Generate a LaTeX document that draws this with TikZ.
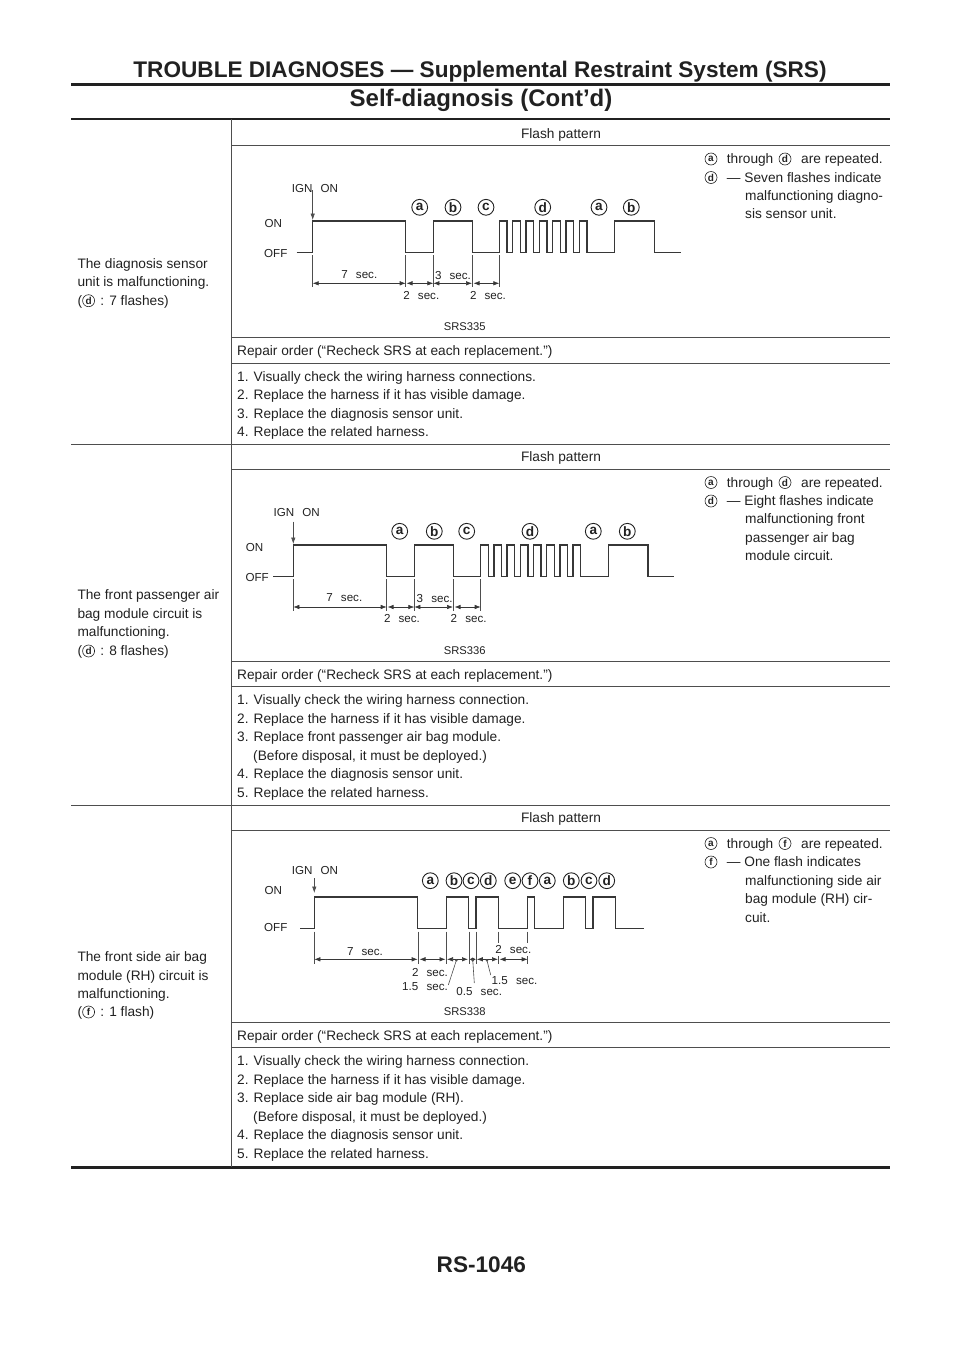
\documentclass[tikz,border=0pt]{standalone}
\usepackage{fontspec}
\setmainfont{Liberation Sans}
\usetikzlibrary{arrows.meta}
\definecolor{inkgray}{gray}{0.13}
\tikzset{
  rulethin/.style={line width=0.9pt, inkgray!80},
  rulethick/.style={line width=3pt, inkgray},
  wave/.style={line width=1.3pt, inkgray!90, line join=miter},
  tick/.style={line width=0.6pt, inkgray!80},
  dimline/.style={{Latex[length=6pt,width=4.5pt]}-{Latex[length=6pt,width=4.5pt]}, line width=0.6pt, inkgray!90},
  dimshort/.style={{Latex[length=3.4pt,width=3.6pt]}-{Latex[length=3.4pt,width=3.6pt]}, line width=0.6pt, inkgray!90},
  lbl/.style={inner sep=0pt, anchor=base west, text=inkgray, font=\fontsize{13.7}{15}\selectfont},
  mid/.style={lbl, anchor=base},
  block/.style={inner sep=0pt, anchor=north west, align=left, text=inkgray, font=\fontsize{13.7}{18.45}\selectfont},
  chart/.style={inner sep=0pt, anchor=base, text=inkgray, font=\fontsize{11.6}{13}\selectfont},
  chartw/.style={chart, anchor=base west},
  capt/.style={inner sep=0pt, anchor=base, text=inkgray, font=\fontsize{11.2}{13}\selectfont},
  bigmark/.style={circle, draw=inkgray, line width=0.9pt, minimum size=15.8pt, inner sep=0pt, text=inkgray, font=\bfseries\fontsize{13.6}{14}\selectfont},
  smallmark/.style={circle, draw=inkgray, line width=0.6pt, minimum size=12pt, inner sep=0pt, text=inkgray, font=\bfseries\fontsize{10}{11}\selectfont},
  head/.style={inner sep=0pt, anchor=base, text=inkgray, font=\bfseries\fontsize{22.6}{26}\selectfont}
}
\begin{document}
\begin{tikzpicture}[x=1pt, y=-1pt]
\useasboundingbox (0,0) rectangle (960,1358);

% Drawing header and footer
\node[head] (title) at (480,77.7) {TROUBLE DIAGNOSES — Supplemental Restraint System (SRS)};
\node[head, font=\bfseries\fontsize{24}{26}\selectfont] (subtitle) at (481,106) {Self-diagnosis (Cont’d)};
\node[head] (pageno) at (481.3,1272) {RS-1046};
\draw[rulethick] (71,84) -- (890,84);
\draw[rulethick, line width=2pt] (71,119) -- (890,119);
\draw[rulethick] (71,1167.7) -- (890,1167.7);

% Drawing table lines
\draw[rulethin, line width=1.1pt] (231.3,119) -- (231.3,1167);
\draw[rulethin] (231,145.7) -- (890,145.7);
\draw[rulethin] (231,337.7) -- (890,337.7);
\draw[rulethin] (231,363) -- (890,363);
\draw[rulethin] (71,444) -- (890,444);
\draw[rulethin] (231,469.5) -- (890,469.5);
\draw[rulethin] (231,661) -- (890,661);
\draw[rulethin] (231,686.7) -- (890,686.7);
\draw[rulethin] (71,805) -- (890,805);
\draw[rulethin] (231,830) -- (890,830);
\draw[rulethin] (231,1022.3) -- (890,1022.3);
\draw[rulethin] (231,1047.5) -- (890,1047.5);

% Drawing first row text
\node[block] (cond1) at (77.3,258.3) {The diagnosis sensor\\unit is malfunctioning.};
\node[lbl] (cond1a) at (77.3,305.3) {(};
\node[smallmark] (cond1m) at (88.6,300.7) {d};
\node[lbl] (cond1b) at (100.2,305.3) {: 7 flashes)};
\node[mid] (flash1) at (561,138.2) {Flash pattern};
\node[lbl] (repair1) at (237,355.2) {Repair order (“Recheck SRS at each replacement.”)};
\node[block] (list1) at (237,371) {1. Visually check the wiring harness connections.\\2. Replace the harness if it has visible damage.\\3. Replace the diagnosis sensor unit.\\4. Replace the related harness.};
\node[smallmark] (note1a) at (711,159) {a};
\node[lbl] (note1b) at (726.7,163.5) {through};
\node[smallmark] (note1c) at (785,159) {d};
\node[lbl] (note1d) at (801,163.5) {are repeated.};
\node[smallmark] (note1e) at (711,177.5) {d};
\node[lbl] (note1f) at (726.7,182) {— Seven flashes indicate};
\node[block] (note1g) at (745,190) {malfunctioning diagno-\\sis sensor unit.};

% Drawing first chart
\draw[wave] (296.7,252.7) -- (312.7,252.7) -- (312.7,221) -- (405.7,221) -- (405.7,252.7) -- (433.3,252.7) -- (433.3,221) -- (472.7,221) -- (472.7,252.7) -- (499.3,252.7)
  \foreach \i in {0,...,6} { -- (499.3+13.35*\i,252.7) -- (499.3+13.35*\i,221) -- (506.9+13.35*\i,221) -- (506.9+13.35*\i,252.7) }
  -- (614.3,252.7) -- (614.3,221) -- (654.3,221) -- (654.3,252.7) -- (681,252.7);
\foreach \x in {312.7,405.7,433.3,472.7,499.3} { \draw[tick] (\x,255) -- (\x,287); }
\draw[-{Latex[length=6.5pt,width=4.5pt]}, tick] (312.7,190) -- (312.7,220);
\draw[dimline] (312.7,283.3) -- (405.7,283.3);
\draw[dimline] (406.5,283.3) -- (433.3,283.3);
\draw[dimline] (433.3,283.3) -- (472,283.3);
\draw[dimline] (473.5,283.3) -- (499.3,283.3);
\node[chart] (ign1) at (315,192) {IGN\hspace{5pt} ON};
\node[chartw] (on1) at (264.5,227) {ON};
\node[chartw] (off1) at (264,257.5) {OFF};
\node[chart] (sec1a) at (359.3,278.5) {7\hspace{5pt} sec.};
\node[chart] (sec1b) at (453,279) {3\hspace{5pt} sec.};
\node[chart] (sec1c) at (421.3,299) {2\hspace{5pt} sec.};
\node[chart] (sec1d) at (488,299) {2\hspace{5pt} sec.};
\node[bigmark] (m1a) at (419.7,207.3) {a};
\node[bigmark] (m1b) at (453,207.3) {b};
\node[bigmark] (m1c) at (486,207.3) {c};
\node[bigmark] (m1d) at (542.7,207.3) {d};
\node[bigmark] (m1e) at (599,207.3) {a};
\node[bigmark] (m1f) at (631.3,207.3) {b};
\node[capt] (srs1) at (464.7,330.5) {SRS335};

% Drawing second row text
\node[block] (cond2) at (77.3,589.5) {The front passenger air\\bag module circuit is\\malfunctioning.};
\node[lbl] (cond2a) at (77.3,655.5) {(};
\node[smallmark] (cond2m) at (88.6,651) {d};
\node[lbl] (cond2b) at (100.2,655.5) {: 8 flashes)};
\node[mid] (flash2) at (561,461.7) {Flash pattern};
\node[lbl] (repair2) at (237,679) {Repair order (“Recheck SRS at each replacement.”)};
\node[block] (list2) at (237,694.7) {1. Visually check the wiring harness connection.\\2. Replace the harness if it has visible damage.\\3. Replace front passenger air bag module.\\\hspace{16pt}(Before disposal, it must be deployed.)\\4. Replace the diagnosis sensor unit.\\5. Replace the related harness.};
\node[smallmark] (note2a) at (711,482.5) {a};
\node[lbl] (note2b) at (726.7,487) {through};
\node[smallmark] (note2c) at (785,482.5) {d};
\node[lbl] (note2d) at (801,487) {are repeated.};
\node[smallmark] (note2e) at (711,501) {d};
\node[lbl] (note2f) at (726.7,505.5) {— Eight flashes indicate};
\node[block] (note2g) at (745,513.5) {malfunctioning front\\passenger air bag\\module circuit.};

% Drawing second chart
\draw[wave] (273.3,576.7) -- (293.3,576.7) -- (293.3,545) -- (386.7,545) -- (386.7,576.7) -- (414.3,576.7) -- (414.3,545) -- (453.7,545) -- (453.7,576.7) -- (480.7,576.7)
  \foreach \i in {0,...,7} { -- (480.7+13.2*\i,576.7) -- (480.7+13.2*\i,545) -- (488.3+13.2*\i,545) -- (488.3+13.2*\i,576.7) }
  -- (608.3,576.7) -- (608.3,545) -- (648,545) -- (648,576.7) -- (674.3,576.7);
\foreach \x in {293.3,386.7,414.3,453.7,480.7} { \draw[tick] (\x,579) -- (\x,611); }
\draw[-{Latex[length=6.5pt,width=4.5pt]}, tick] (293.3,521.5) -- (293.3,544);
\draw[dimline] (293.3,607) -- (386.7,607);
\draw[dimline] (387.5,607) -- (414.3,607);
\draw[dimline] (414.3,607) -- (453,607);
\draw[dimline] (454.5,607) -- (480.7,607);
\node[chart] (ign2) at (296.7,516) {IGN\hspace{5pt} ON};
\node[chartw] (on2) at (245.7,551) {ON};
\node[chartw] (off2) at (245.3,581.5) {OFF};
\node[chart] (sec2a) at (344.3,601.5) {7\hspace{5pt} sec.};
\node[chart] (sec2b) at (434.7,602) {3\hspace{5pt} sec.};
\node[chart] (sec2c) at (402,622.5) {2\hspace{5pt} sec.};
\node[chart] (sec2d) at (468.7,622.5) {2\hspace{5pt} sec.};
\node[bigmark] (m2a) at (399.7,531.3) {a};
\node[bigmark] (m2b) at (434.3,531.3) {b};
\node[bigmark] (m2c) at (466.7,531.3) {c};
\node[bigmark] (m2d) at (530,531.3) {d};
\node[bigmark] (m2e) at (593.3,531.3) {a};
\node[bigmark] (m2f) at (627.3,531.3) {b};
\node[capt] (srs2) at (464.7,654.5) {SRS336};

% Drawing third row text
\node[block] (cond3) at (77.3,951.5) {The front side air bag\\module (RH) circuit is\\malfunctioning.};
\node[lbl] (cond3a) at (77.3,1016.5) {(};
\node[smallmark] (cond3m) at (88.6,1012) {f};
\node[lbl] (cond3b) at (100.2,1016.5) {: 1 flash)};
\node[mid] (flash3) at (561,822.7) {Flash pattern};
\node[lbl] (repair3) at (237,1040) {Repair order (“Recheck SRS at each replacement.”)};
\node[block] (list3) at (237,1055.7) {1. Visually check the wiring harness connection.\\2. Replace the harness if it has visible damage.\\3. Replace side air bag module (RH).\\\hspace{16pt}(Before disposal, it must be deployed.)\\4. Replace the diagnosis sensor unit.\\5. Replace the related harness.};
\node[smallmark] (note3a) at (711,843.5) {a};
\node[lbl] (note3b) at (726.7,848) {through};
\node[smallmark] (note3c) at (785,843.5) {f};
\node[lbl] (note3d) at (801,848) {are repeated.};
\node[smallmark] (note3e) at (711,862) {f};
\node[lbl] (note3f) at (726.7,866.5) {— One flash indicates};
\node[block] (note3g) at (745,875) {malfunctioning side air\\bag module (RH) cir-\\cuit.};

% Drawing third chart
\draw[wave] (300,928.3) -- (314.3,928.3) -- (314.3,897) -- (417.7,897) -- (417.7,928.3) -- (446.3,928.3) -- (446.3,897) -- (468.7,897) -- (468.7,928.3) -- (476,928.3) -- (476,897) -- (498.7,897) -- (498.7,928.3) -- (527.7,928.3) -- (527.7,897) -- (534.7,897) -- (534.7,928.3) -- (563.7,928.3) -- (563.7,897) -- (585.3,897) -- (585.3,928.3) -- (593,928.3) -- (593,897) -- (615.3,897) -- (615.3,928.3) -- (643.7,928.3);
\foreach \x in {314.3,418.7,446.3,469,476} { \draw[tick] (\x,931.7) -- (\x,964); }
\foreach \x in {498.7,527.7} { \draw[tick] (\x,931.7) -- (\x,943); \draw[tick] (\x,956) -- (\x,964); }
\draw[-{Latex[length=6.5pt,width=4.5pt]}, tick] (314.3,878) -- (314.3,893);
\draw[dimline] (314.3,959.3) -- (417.7,959.3);
\draw[dimline] (419.5,959.3) -- (445.5,959.3);
\draw[dimline] (447,959.3) -- (468,959.3);
\draw[dimshort] (469.5,959.3) -- (476,959.3);
\draw[dimline] (476.8,959.3) -- (498,959.3);
\draw[dimline] (499.5,959.3) -- (527.7,959.3);
\draw[tick, -{Circle[length=2.4pt]}] (448.3,985) -- (456.7,959.3);
\draw[tick, -{Circle[length=2.4pt]}] (474.3,983) -- (472.7,959.3);
\draw[tick, -{Circle[length=2.4pt]}] (490.7,975) -- (486.7,959.3);
\node[chart] (ign3) at (315,874) {IGN\hspace{5pt} ON};
\node[chartw] (on3) at (264.5,894) {ON};
\node[chartw] (off3) at (264,931.5) {OFF};
\node[chart] (sec3a) at (365,955) {7\hspace{5pt} sec.};
\node[chart] (sec3b) at (513.3,953.5) {2\hspace{5pt} sec.};
\node[chart] (sec3c) at (430,976) {2\hspace{5pt} sec.};
\node[chart] (sec3d) at (425,990) {1.5\hspace{5pt} sec.};
\node[chart] (sec3e) at (479.2,995.5) {0.5\hspace{5pt} sec.};
\node[chart] (sec3f) at (514.5,984.5) {1.5\hspace{5pt} sec.};
\node[bigmark] (m3a) at (430.3,880.7) {a};
\node[bigmark] (m3b) at (454,880.7) {b};
\node[bigmark] (m3c) at (471,880.7) {c};
\node[bigmark] (m3d) at (488.3,880.7) {d};
\node[bigmark] (m3e) at (512.7,880.7) {e};
\node[bigmark] (m3f) at (530,880.7) {f};
\node[bigmark] (m3g) at (547.3,880.7) {a};
\node[bigmark] (m3h) at (571.3,880.7) {b};
\node[bigmark] (m3i) at (589,880.7) {c};
\node[bigmark] (m3j) at (606.7,880.7) {d};
\node[capt] (srs3) at (464.7,1015) {SRS338};
\end{tikzpicture}
\end{document}
